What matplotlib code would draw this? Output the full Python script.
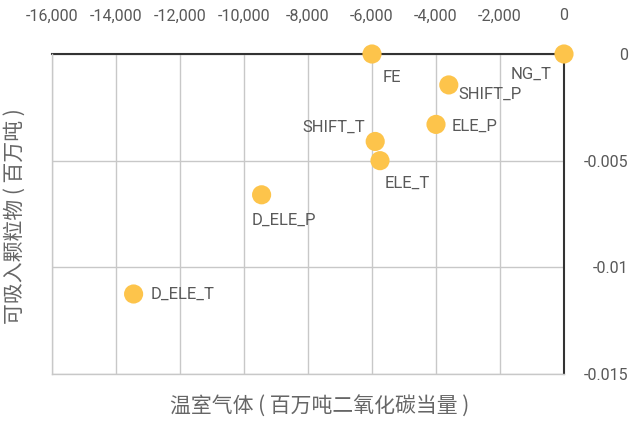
import matplotlib
matplotlib.use("Agg")
from matplotlib import pyplot as plt
from matplotlib.ticker import FuncFormatter

plt.rcParams['font.family'] = ['Roboto', 'Noto Sans CJK SC', 'DejaVu Sans']

# Scenario results: change in GHG vs. change in PM (million tonnes)
names = ["FE", "NG_T", "SHIFT_P", "ELE_P", "SHIFT_T", "ELE_T", "D_ELE_P", "D_ELE_T"]
ghg = [-6000, 0, -3600, -4000, -5900, -5750, -9450, -13450]
pm = [0.0, 0.0, -0.00145, -0.0033, -0.0041, -0.005, -0.0066, -0.01125]
# label offsets in pixels and alignment, one per point
offsets = [(11, -23, 'left'), (-12, -20, 'right'), (10, -9, 'left'), (16, -2, 'left'),
           (-10, 14, 'right'), (5, -23, 'left'), (-10, -25, 'left'), (17, 0, 'left')]

x_ticks = list(range(-16000, 1, 2000))
y_ticks = [0, -0.005, -0.01, -0.015]
y_tick_labels = ["0", "-0.005", "-0.01", "-0.015"]

text_color = '#595959'
grid_color = '#c8c8c8'

fig = plt.figure(figsize=(6.42, 4.21), dpi=100)
ax = fig.add_axes([52 / 642, 47 / 421, 512 / 642, 320 / 421])

ax.set_xlim(-16000, 0)
ax.set_ylim(-0.015, 0)
ax.set_xticks(x_ticks)
ax.set_yticks(y_ticks)
ax.set_yticklabels(y_tick_labels)
ax.xaxis.set_major_formatter(FuncFormatter(lambda v, p: f"{int(v):,}"))

ax.xaxis.tick_top()
ax.yaxis.tick_right()
ax.tick_params(axis='both', length=0, labelsize=11.5, labelcolor=text_color)
ax.tick_params(axis='x', pad=22)
ax.tick_params(axis='y', pad=46)
for lbl in ax.get_yticklabels():
    lbl.set_horizontalalignment('right')

ax.grid(True, color=grid_color, linewidth=1)
ax.set_axisbelow(True)
for side in ['left', 'bottom']:
    ax.spines[side].set_color(grid_color)
    ax.spines[side].set_linewidth(1)
for side in ['top', 'right']:
    ax.spines[side].set_color('#333333')
    ax.spines[side].set_linewidth(1.5)
    ax.spines[side].set_zorder(2)

ax.scatter(ghg, pm, s=190, color='#fdc44b', edgecolors='none', zorder=3, clip_on=False)

for name, x, y, (dx, dy, ha) in zip(names, ghg, pm, offsets):
    ax.annotate(name, (x, y), xytext=(dx, dy), textcoords='offset pixels',
                ha=ha, va='center', fontsize=12, color=text_color)

cjk = ['Noto Sans CJK SC', 'DejaVu Sans']
fig.text(320 / 642, 1 - 407 / 421, "温室气体 ( 百万吨二氧化碳当量 )", ha='center', va='center',
         fontsize=15, color='#666666', family=cjk, fontweight='light')
fig.text(15 / 642, 1 - 216 / 421, "可吸入颗粒物 ( 百万吨 )", ha='center', va='center',
         rotation=90, fontsize=15, color='#666666', family=cjk, fontweight='light')

fig.savefig("out.png", dpi=100)
